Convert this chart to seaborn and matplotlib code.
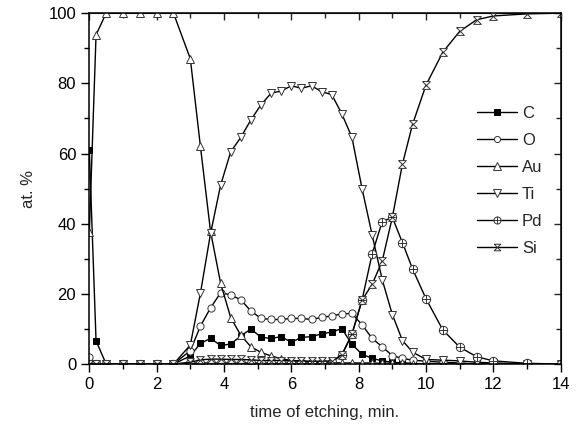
import matplotlib
matplotlib.use('Agg')
from matplotlib import pyplot as plt
from matplotlib.path import Path
from matplotlib.ticker import MultipleLocator
import seaborn as sns

# time of etching, min.
t = [0, 0.2, 0.5, 1.0, 1.5, 2.0, 2.5, 3.0, 3.3, 3.6, 3.9, 4.2, 4.5, 4.8, 5.1, 5.4,
     5.7, 6.0, 6.3, 6.6, 6.9, 7.2, 7.5, 7.8, 8.1, 8.4, 8.7, 9.0, 9.3, 9.6, 10.0,
     10.5, 11.0, 11.5, 12.0, 13.0, 14.0]

C = [61, 6.6, 0, 0, 0, 0, 0, 2.3, 5.9, 7.3, 5.3, 5.7, 8.0, 10.0, 7.6, 7.3, 7.8,
     6.2, 7.6, 7.8, 8.6, 9.1, 10.1, 5.6, 2.8, 1.6, 0.9, 0.5, 0.3, 0.2, 0, 0, 0,
     0, 0, 0, 0]
O = [2.0, 0, 0, 0, 0, 0, 0, 3.8, 10.8, 16.0, 20.3, 19.7, 18.3, 15.1, 13.0, 12.7,
     12.7, 13.0, 13.0, 12.7, 13.3, 13.7, 14.3, 14.4, 11.2, 7.3, 4.9, 2.4, 1.6,
     1.1, 0.8, 0.5, 0.3, 0, 0, 0, 0]
Au = [37.5, 93.8, 100, 100, 100, 100, 100, 87, 62, 37.8, 23, 13.2, 8.2, 4.9,
      3.3, 2.3, 1.5, 1.0, 0.8, 0.6, 0.5, 0.4, 0.3, 0.3, 0.3, 0.3, 0.2, 0.2, 0.2,
      0.1, 0.1, 0, 0, 0, 0, 0, 0]
Ti = [0, 0, 0, 0, 0, 0, 0, 5.4, 20.2, 37.2, 51, 60.5, 64.6, 69.6, 73.9, 77.2,
      77.8, 79.3, 78.6, 79.3, 77.6, 76.8, 71.3, 64.6, 50.0, 36.8, 24.0, 14.1,
      6.7, 3.4, 1.3, 1.1, 0.9, 0.5, 0.3, 0, 0]
Pd = [0, 0, 0, 0, 0, 0, 0, 0.3, 0.3, 0.3, 0.3, 0.3, 0.3, 0.3, 0.3, 0.3, 0.3,
      0.3, 0.3, 0.3, 0.3, 0.5, 2.6, 8.5, 18.2, 31.4, 40.6, 41.8, 34.6, 27.1,
      18.6, 9.7, 4.8, 2.1, 0.9, 0.2, 0]
Si = [0, 0, 0, 0, 0, 0, 0, 0.5, 1.2, 1.4, 1.4, 1.3, 1.3, 1.2, 1.0, 1.0, 1.0,
      0.9, 0.9, 0.8, 0.8, 0.9, 2.6, 8.5, 18.2, 22.7, 29.4, 41.8, 57.0, 68.3,
      79.5, 88.9, 94.8, 98.1, 99.2, 99.8, 100]

labels = ['C', 'O', 'Au', 'Ti', 'Pd', 'Si']
series = [C, O, Au, Ti, Pd, Si]

# custom markers: circle with plus, hourglass
M, L = Path.MOVETO, Path.LINETO
oplus = Path.make_compound_path(
    Path.unit_circle(),
    Path([(-1, 0), (1, 0)], [M, L]),
    Path([(0, -1), (0, 1)], [M, L]))
hourglass = Path([(-1, 1), (1, 1), (-1, -1), (1, -1), (-1, 1)], [M, L, L, L, L])

styles = {
    'C': dict(marker='s', markersize=4.6, mfc='black', mec='black'),
    'O': dict(marker='o', markersize=5.2, mfc='white', mec='#333333'),
    'Au': dict(marker='^', markersize=6.2, mfc='white', mec='#333333'),
    'Ti': dict(marker='v', markersize=6.2, mfc='white', mec='#333333'),
    'Pd': dict(marker=oplus, markersize=6, mfc='white', mec='#333333'),
    'Si': dict(marker=hourglass, markersize=5.6, mfc='white', mec='#333333'),
}

sns.set_style('white')
plt.rcParams['font.family'] = ['Liberation Sans', 'DejaVu Sans']

fig = plt.figure(figsize=(5.8, 4.37), dpi=100)
ax = fig.add_axes([0.154, 0.167, 0.8127, 0.8029])

for name, vals in zip(labels, series):
    sns.lineplot(x=t, y=vals, ax=ax, color='black', linewidth=1.0,
                 markeredgewidth=0.7, label=name, **styles[name])

ax.set_xlim(0, 14)
ax.set_ylim(0, 100)
ax.xaxis.set_major_locator(MultipleLocator(2))
ax.xaxis.set_minor_locator(MultipleLocator(1))
ax.yaxis.set_major_locator(MultipleLocator(20))
ax.yaxis.set_minor_locator(MultipleLocator(10))
ax.tick_params(which='both', direction='out', colors='black', labelsize=12,
               width=1.0, bottom=True, left=True)
ax.tick_params(which='major', length=6)
ax.tick_params(which='minor', length=3.5)
for s in ax.spines.values():
    s.set_linewidth(1.1)
    s.set_color('black')

# inward ticks on top and right
top = ax.secondary_xaxis('top')
top.xaxis.set_major_locator(MultipleLocator(2))
top.xaxis.set_minor_locator(MultipleLocator(1))
top.tick_params(which='both', direction='in', labeltop=False, width=1.0)
top.tick_params(which='major', length=5)
top.tick_params(which='minor', length=3.5)
right = ax.secondary_yaxis('right')
right.yaxis.set_major_locator(MultipleLocator(20))
right.yaxis.set_minor_locator(MultipleLocator(10))
right.tick_params(which='both', direction='in', labelright=False, width=1.0)
right.tick_params(which='major', length=5)
right.tick_params(which='minor', length=3.5)

ax.set_xlabel('time of etching, min.', fontsize=12, labelpad=9)
ax.set_ylabel('at. %', fontsize=12, labelpad=9)

ax.legend(loc='center left', bbox_to_anchor=(0.822, 0.523), frameon=False,
          fontsize=12, handlelength=2.4, handletextpad=0.3, labelspacing=0.72,
          borderpad=0, borderaxespad=0, markerscale=0.85)

fig.savefig('out.png', dpi=100)
